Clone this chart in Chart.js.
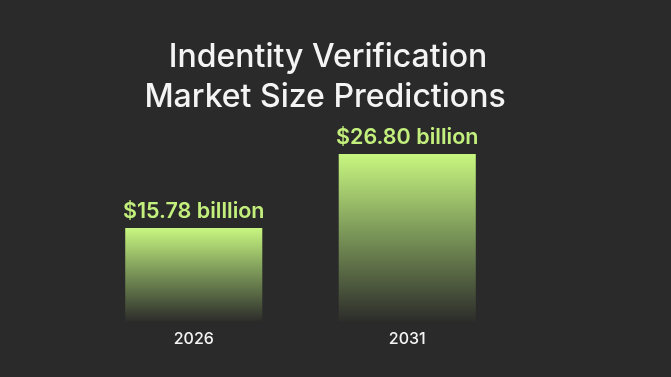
<!DOCTYPE html>
<html>
<head>
<meta charset="utf-8">
<script src="https://cdn.jsdelivr.net/npm/chart.js@4"></script>
<style>
  html, body { margin: 0; padding: 0; background: #2a2a2a; }
  #wrap { width: 671px; height: 377px; }
</style>
</head>
<body>
<div id="wrap"><canvas id="marketChart"></canvas></div>
<script>
// Data
const titleLines = ['Indentity Verification', 'Market Size Predictions'];
const years = ['2026', '2031'];
const marketSize = [15.78, 26.80];
const valueLabels = ['$15.78 billlion', '$26.80 billion'];

Chart.defaults.font.family = "'Inter', sans-serif";

// bar fill: bright green at the top fading into the background
function barGradient(context) {
  const chart = context.chart;
  const { ctx, chartArea, scales } = chart;
  if (!chartArea) return '#c6f57f';
  const top = scales.y.getPixelForValue(context.raw);
  const g = ctx.createLinearGradient(0, top, 0, chartArea.bottom);
  g.addColorStop(0, '#c8f780');
  g.addColorStop(0.45, '#7e9b5a');
  g.addColorStop(1, '#2c2c2a');
  return g;
}

// title + value labels drawn on the canvas
const textPlugin = {
  id: 'textPlugin',
  afterDatasetsDraw(chart) {
    const ctx = chart.ctx;
    ctx.save();
    ctx.textAlign = 'center';
    ctx.textBaseline = 'middle';
    ctx.fillStyle = '#f4f4f4';
    ctx.font = "500 32px 'Inter', sans-serif";
    ctx.fillText(titleLines[0], 328, 57);
    ctx.fillText(titleLines[1], 325, 97);

    ctx.fillStyle = '#c3ef7d';
    ctx.font = "600 21.5px 'Inter', sans-serif";
    chart.getDatasetMeta(0).data.forEach((bar, i) => {
      ctx.fillText(valueLabels[i], bar.x, bar.y - 16);
    });
    ctx.restore();
  }
};

const ctx = document.getElementById('marketChart').getContext('2d');
new Chart(ctx, {
  type: 'bar',
  data: {
    labels: years,
    datasets: [{
      data: marketSize,
      backgroundColor: barGradient,
      borderWidth: 0,
      categoryPercentage: 1,
      barPercentage: 0.642
    }]
  },
  options: {
    responsive: true,
    maintainAspectRatio: false,
    animation: false,
    layout: { padding: { top: 154, bottom: 28, left: 87, right: 157 } },
    plugins: {
      legend: { display: false },
      tooltip: { enabled: false }
    },
    scales: {
      x: {
        grid: { display: false },
        border: { display: false },
        ticks: { color: '#f4f4f4', padding: 0, font: { size: 16, weight: '500' } }
      },
      y: {
        display: false,
        min: 1.8,
        max: 26.8
      }
    }
  },
  plugins: [textPlugin]
});
</script>
</body>
</html>
